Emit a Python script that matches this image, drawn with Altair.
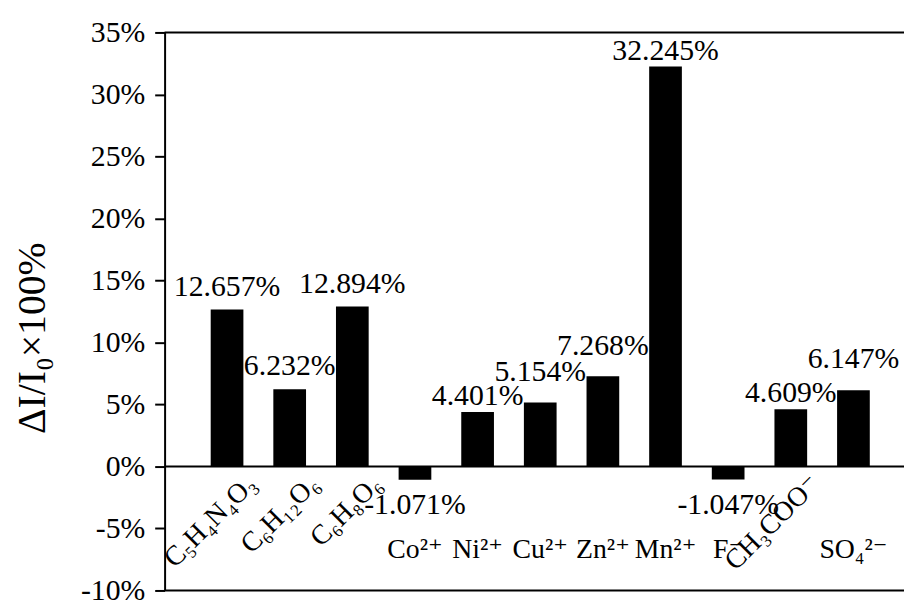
import altair as alt
import pandas as pd

categories = ["C₅H₄N₄O₃", "C₆H₁₂O₆", "C₆H₈O₆", "Co²⁺", "Ni²⁺", "Cu²⁺",
              "Zn²⁺", "Mn²⁺", "F⁻", "CH₃COO⁻", "SO₄²⁻"]
values = [12.657, 6.232, 12.894, -1.071, 4.401, 5.154, 7.268, 32.245, -1.047, 4.609, 6.147]
rotated_labels = ["C₅H₄N₄O₃", "C₆H₁₂O₆", "C₆H₈O₆", "CH₃COO⁻"]
y_tick_values = [-10, -7.5, -5, -2.5, 0, 2.5, 5, 7.5, 10, 12.5, 15, 17.5,
                 20, 22.5, 25, 27.5, 30, 32.5, 35]
y_title = "ΔI/I₀×100%"

df = pd.DataFrame({"cat": categories, "v": values})

FONT = "Liberation Serif, DejaVu Serif, serif"

xscale = alt.Scale(domain=categories, paddingInner=0.478, paddingOuter=0.641, align=0.574)
yscale = alt.Scale(domain=[-10, 35], nice=False, zero=False)

X = alt.X("cat:N", sort=categories, scale=xscale, axis=None)

base = alt.Chart(df)

bars = base.mark_bar(color="black").encode(
    x=X,
    y=alt.Y("v:Q", scale=yscale,
            axis=alt.Axis(values=y_tick_values,
                          labelExpr="datum.value % 5 === 0 ? datum.value + '%' : ''",
                          tickSize={"condition": {"test": "datum.value % 5 !== 0", "value": 5}, "value": 10},
                          labelPadding=10, labelFontSize=30, labelFont=FONT,
                          labelColor="black", tickColor="black", tickWidth=2,
                          domainColor="black", domainWidth=2, grid=False,
                          title=y_title, titleFont=FONT, titleFontSize=40,
                          titleFontWeight="normal", titleColor="black",
                          titleBaseline="alphabetic", titleX=-121, titleY=308)),
)

# frame lines: top, bottom, zero
frame = alt.Chart(pd.DataFrame({"yv": [35, 0, -10]})).mark_rule(color="black", strokeWidth=2).encode(
    y=alt.Y("yv:Q", scale=yscale)
)

# value label nudges (pixels above bar top)
gap_groups = {
    14: ["C₅H₄N₄O₃", "C₆H₁₂O₆", "C₆H₈O₆"],
    7: ["Ni²⁺", "Mn²⁺", "CH₃COO⁻"],
    22: ["Cu²⁺", "Zn²⁺", "SO₄²⁻"],
}
label_layers = []
for gap, cats in gap_groups.items():
    label_layers.append(
        base.transform_filter(alt.FieldOneOfPredicate(field="cat", oneOf=cats))
        .transform_calculate(lab="datum.v + '%'")
        .mark_text(font=FONT, fontSize=30, color="black", baseline="alphabetic", align="center", dy=-gap)
        .encode(x=X, y=alt.Y("v:Q", scale=yscale), text="lab:N")
    )
neg_labels = (
    base.transform_filter("datum.v < 0")
    .transform_calculate(lab="datum.v + '%'")
    .mark_text(font=FONT, fontSize=30, color="black", baseline="alphabetic", align="center", dy=35)
    .encode(x=X, y=alt.Y("v:Q", scale=yscale), text="lab:N")
)

# category labels
horiz = (
    base.transform_filter(alt.FieldOneOfPredicate(field="cat", oneOf=[c for c in categories if c not in rotated_labels]))
    .mark_text(font=FONT, fontSize=28, color="black", baseline="alphabetic", align="center")
    .encode(x=X, y=alt.datum(-7.35), text="cat:N")
)
rot = (
    base.transform_filter(alt.FieldOneOfPredicate(field="cat", oneOf=rotated_labels))
    .mark_text(font=FONT, fontSize=28, color="black", baseline="middle", align="right", angle=315,
               dx=8.5, dy=8.5)
    .encode(x=alt.X("cat:N", sort=categories, scale=xscale, axis=None, bandPosition=0.9),
            y=alt.datum(-1.1), text="cat:N")
)

chart = alt.layer(bars, frame, *label_layers, neg_labels, horiz, rot).properties(
    width=746, height=563,
    autosize=alt.AutoSizeParams(type="none"),
    padding={"left": 158, "top": 22, "right": 0, "bottom": 11},
).configure_view(stroke=None)

chart.save("out.html", embed_options={"renderer": "svg", "actions": False})
